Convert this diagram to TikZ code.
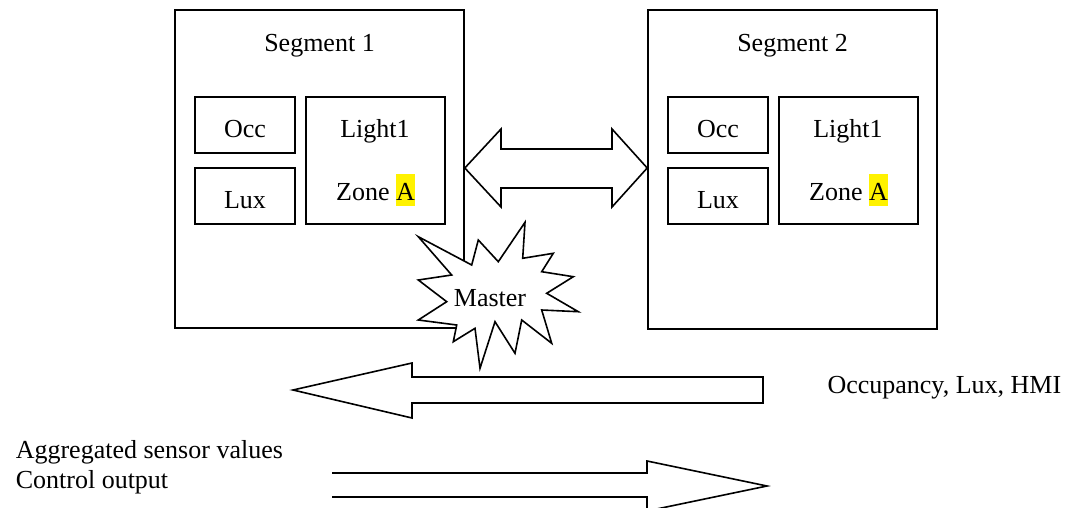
\documentclass[tikz,border=0pt]{standalone}
\usepackage{fontspec}
\setmainfont{Liberation Serif}
\newcommand{\hlA}{{\setlength{\fboxsep}{0pt}\colorbox{yellow}{\rule[-0.23em]{0pt}{1.23em}A}}}
\begin{document}
\begin{tikzpicture}[x=1pt,y=-1pt,
  font=\fontsize{26}{30}\selectfont,
  line width=1.6pt,
  box/.style={draw, rectangle, inner sep=0pt},
  lbl/.style={anchor=base, inner sep=0pt},
  shapeline/.style={draw, line join=miter, fill=white}]
\useasboundingbox (0,0) rectangle (1078,508);
\clip (0,0) rectangle (1078,508);
% Segment 1
\node[box, minimum width=289pt, minimum height=318pt] (seg1) at (319.5,169) {};
\node[lbl] (seg1t) at (319.5,51.7) {Segment 1};
\node[box, minimum width=100pt, minimum height=56pt] (occ1) at (245,125) {};
\node[lbl] (occ1t) at (245,137) {Occ};
\node[box, minimum width=100pt, minimum height=56pt] (lux1) at (245,196) {};
\node[lbl] (lux1t) at (245,208.3) {Lux};
\node[box, minimum width=139pt, minimum height=127pt] (light1) at (375.5,160.5) {};
\node[lbl] (light1t) at (375,137.7) {Light1};
\node[lbl] (zone1t) at (375.5,200) {Zone \hlA};
% Segment 2
\node[box, minimum width=289pt, minimum height=319pt] (seg2) at (792.5,169.5) {};
\node[lbl] (seg2t) at (792.5,51.7) {Segment 2};
\node[box, minimum width=100pt, minimum height=56pt] (occ2) at (718,125) {};
\node[lbl] (occ2t) at (718,137) {Occ};
\node[box, minimum width=100pt, minimum height=56pt] (lux2) at (718,196) {};
\node[lbl] (lux2t) at (718,208.3) {Lux};
\node[box, minimum width=139pt, minimum height=127pt] (light2) at (848.5,160.5) {};
\node[lbl] (light2t) at (848,137.7) {Light1};
\node[lbl] (zone2t) at (848.5,200) {Zone \hlA};
% double arrow between segments
\draw[shapeline] (seg1.east |- 0,168) -- (501,129) -- (501,149) -- (612,149) -- (612,129)
  -- (seg2.west |- 0,168) -- (612,207) -- (612,188) -- (501,188) -- (501,207) -- cycle;
% Master starburst
\draw[shapeline] (480,368.3) -- (495,321.7) -- (515,353.3) -- (521.7,320) -- (551.7,343.3)
  -- (541.7,310) -- (578.3,311.7) -- (546.7,293.3) -- (573.3,276.7) -- (541.7,271.7)
  -- (553.3,253.3) -- (522.7,258.3) -- (525,222.3) -- (498.3,261.7) -- (478.3,240)
  -- (471.7,265) -- (418.3,236.7) -- (451.7,275) -- (418.3,280) -- (446.7,301.7)
  -- (418.3,320) -- (456.7,325) -- (453.3,341.7) -- (475,328.3) -- cycle;
\node[lbl] (master) at (490,306.7) {Master};
% bottom arrows
\draw[shapeline] (293,390) -- (412,363) -- (412,377) -- (763,377) -- (763,403)
  -- (412,403) -- (412,418) -- cycle;
\node[anchor=base west, inner sep=0pt] (occlbl) at (826.7,393.3) {Occupancy, Lux, HMI};
\draw[line join=miter] (332,473) -- (647,473) -- (647,461) -- (767,486) -- (647,511)
  -- (647,497) -- (332,497);
\node[anchor=base west, inner sep=0pt] (agg) at (15,458.3) {Aggregated sensor values};
\node[anchor=base west, inner sep=0pt] (ctrl) at (15,488.3) {Control output};
\end{tikzpicture}
\end{document}
